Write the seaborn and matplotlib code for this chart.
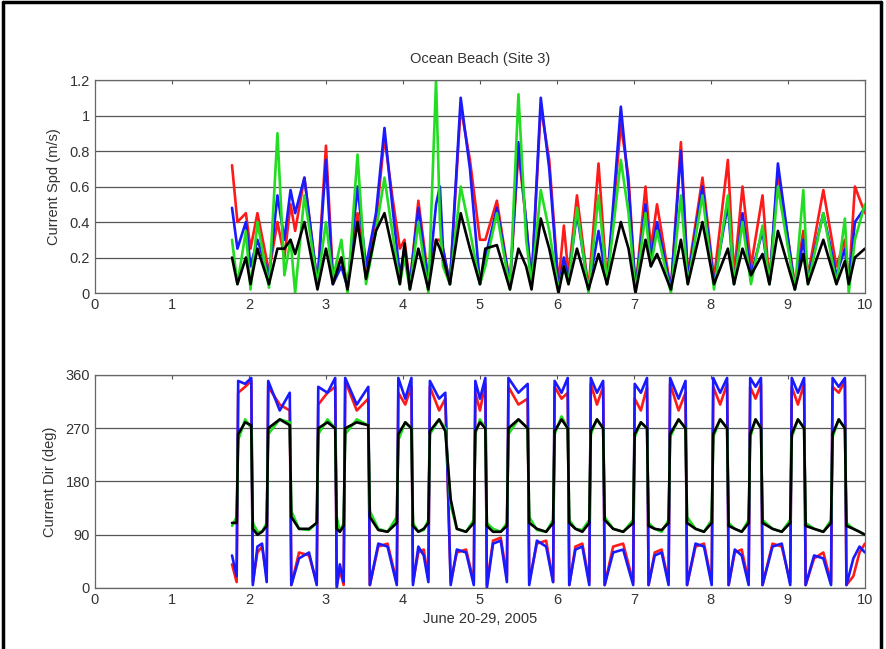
import matplotlib
matplotlib.use("Agg")
import numpy as np
import pandas as pd
import seaborn as sns
import matplotlib.pyplot as plt
from matplotlib.lines import Line2D

# ---- speed panel: turning points (days, m/s)
spd_day = [1.78, 1.85, 1.96, 2.02, 2.11, 2.26, 2.37, 2.46, 2.54, 2.60, 2.72, 2.89,
           3.00, 3.09, 3.20, 3.28, 3.41, 3.52, 3.65, 3.76, 3.86, 3.96, 4.02, 4.09,
           4.20, 4.33, 4.43, 4.48, 4.52, 4.61, 4.75, 4.87, 5.00, 5.07, 5.22, 5.39,
           5.50, 5.60, 5.67, 5.79, 5.90, 6.02, 6.09, 6.15, 6.26, 6.41, 6.54, 6.65,
           6.83, 6.93, 7.02, 7.15, 7.22, 7.30, 7.48, 7.61, 7.70, 7.89, 8.04, 8.22,
           8.30, 8.41, 8.52, 8.67, 8.76, 8.87, 9.09, 9.20, 9.26, 9.46, 9.63, 9.74,
           9.79, 9.87, 10.0]
spd_red = [0.72, 0.40, 0.45, 0.25, 0.45, 0.12, 0.40, 0.20, 0.50, 0.35, 0.65, 0.05,
           0.83, 0.10, 0.20, 0.05, 0.45, 0.10, 0.40, 0.88, 0.55, 0.25, 0.30, 0.05,
           0.52, 0.08, 0.30, 0.30, 0.25, 0.05, 1.05, 0.75, 0.30, 0.30, 0.52, 0.05,
           0.80, 0.40, 0.05, 1.05, 0.75, 0.05, 0.38, 0.10, 0.55, 0.02, 0.73, 0.05,
           0.95, 0.65, 0.02, 0.60, 0.25, 0.50, 0.02, 0.85, 0.10, 0.65, 0.08, 0.75,
           0.10, 0.60, 0.15, 0.55, 0.05, 0.68, 0.05, 0.35, 0.10, 0.58, 0.15, 0.30,
           0.05, 0.60, 0.45]
spd_blue = [0.48, 0.25, 0.40, 0.15, 0.30, 0.10, 0.55, 0.30, 0.58, 0.45, 0.65, 0.05,
            0.75, 0.05, 0.15, 0.03, 0.60, 0.15, 0.45, 0.93, 0.50, 0.10, 0.25, 0.05,
            0.48, 0.05, 0.50, 0.60, 0.25, 0.05, 1.10, 0.70, 0.05, 0.20, 0.48, 0.05,
            0.85, 0.40, 0.05, 1.10, 0.70, 0.02, 0.20, 0.08, 0.45, 0.02, 0.35, 0.05,
            1.05, 0.60, 0.02, 0.50, 0.20, 0.40, 0.02, 0.80, 0.08, 0.60, 0.05, 0.50,
            0.05, 0.45, 0.10, 0.35, 0.05, 0.73, 0.02, 0.30, 0.08, 0.45, 0.10, 0.25,
            0.05, 0.40, 0.48]
spd_green = [0.30, 0.05, 0.35, 0.02, 0.40, 0.03, 0.90, 0.10, 0.30, 0.00, 0.55, 0.05,
             0.40, 0.08, 0.30, 0.00, 0.78, 0.05, 0.35, 0.65, 0.35, 0.05, 0.20, 0.02,
             0.40, 0.00, 1.20, 0.40, 0.15, 0.05, 0.60, 0.35, 0.05, 0.15, 0.45, 0.02,
             1.12, 0.30, 0.05, 0.58, 0.35, 0.02, 0.15, 0.05, 0.48, 0.00, 0.55, 0.05,
             0.75, 0.45, 0.00, 0.45, 0.15, 0.35, 0.00, 0.55, 0.05, 0.55, 0.02, 0.55,
             0.05, 0.40, 0.05, 0.38, 0.05, 0.60, 0.02, 0.58, 0.05, 0.45, 0.05, 0.42,
             0.00, 0.30, 0.50]
spd_black = [0.20, 0.05, 0.20, 0.05, 0.25, 0.05, 0.25, 0.25, 0.30, 0.22, 0.40, 0.02,
             0.25, 0.05, 0.20, 0.02, 0.40, 0.08, 0.35, 0.45, 0.25, 0.05, 0.28, 0.02,
             0.25, 0.02, 0.30, 0.25, 0.20, 0.05, 0.45, 0.25, 0.05, 0.25, 0.27, 0.02,
             0.25, 0.15, 0.02, 0.42, 0.25, 0.00, 0.15, 0.05, 0.25, 0.02, 0.22, 0.05,
             0.40, 0.25, 0.00, 0.30, 0.15, 0.22, 0.02, 0.30, 0.05, 0.40, 0.05, 0.25,
             0.05, 0.25, 0.10, 0.22, 0.05, 0.35, 0.02, 0.22, 0.05, 0.30, 0.05, 0.18,
             0.05, 0.20, 0.25]

# ---- direction panel: plateaus and arches (days, deg)
dir_day = [1.78, 1.84, 1.86, 1.95, 2.03, 2.05, 2.11, 2.17, 2.23, 2.25, 2.40, 2.53,
           2.55, 2.65, 2.78, 2.88, 2.90, 3.02, 3.12, 3.14, 3.18, 3.23, 3.25, 3.40,
           3.55, 3.57, 3.68, 3.80, 3.92, 3.94, 4.03, 4.11, 4.13, 4.20, 4.27, 4.33,
           4.35, 4.47, 4.55, 4.62, 4.70, 4.82, 4.92, 4.94, 5.00, 5.07, 5.09, 5.17,
           5.27, 5.35, 5.37, 5.50, 5.62, 5.64, 5.74, 5.86, 5.95, 5.97, 6.06, 6.14,
           6.16, 6.24, 6.33, 6.42, 6.44, 6.52, 6.60, 6.62, 6.73, 6.86, 6.99, 7.01,
           7.09, 7.17, 7.19, 7.27, 7.36, 7.45, 7.47, 7.58, 7.67, 7.69, 7.80, 7.91,
           8.01, 8.03, 8.12, 8.21, 8.23, 8.31, 8.40, 8.49, 8.51, 8.58, 8.65, 8.67,
           8.80, 8.92, 9.03, 9.05, 9.13, 9.21, 9.23, 9.34, 9.46, 9.56, 9.58, 9.66,
           9.74, 9.76, 9.85, 9.93, 10.0]
dir_red = [40, 10, 330, 340, 350, 10, 60, 70, 20, 340, 310, 300,
           5, 60, 55, 10, 310, 330, 340, 5, 30, 5, 350, 300,
           320, 5, 70, 75, 10, 330, 310, 340, 10, 60, 65, 15,
           340, 300, 320, 10, 60, 65, 10, 330, 300, 345, 5, 80,
           85, 20, 340, 310, 320, 10, 75, 80, 10, 340, 320, 330,
           5, 70, 75, 10, 345, 310, 340, 5, 70, 75, 10, 320,
           300, 340, 5, 60, 65, 10, 345, 300, 330, 5, 70, 75,
           10, 340, 310, 345, 5, 60, 65, 10, 340, 320, 345, 5,
           75, 70, 10, 340, 310, 345, 5, 50, 60, 10, 340, 330,
           350, 5, 20, 60, 75]
dir_blue = [55, 20, 350, 345, 355, 5, 70, 75, 10, 350, 300, 330,
            5, 50, 60, 5, 340, 330, 355, 0, 40, 10, 355, 310,
            340, 5, 75, 70, 5, 355, 320, 355, 5, 70, 55, 10,
            350, 320, 330, 5, 65, 60, 5, 350, 320, 355, 0, 75,
            80, 10, 355, 330, 345, 5, 80, 70, 10, 350, 330, 355,
            5, 65, 70, 5, 355, 330, 350, 5, 60, 65, 5, 345,
            330, 355, 5, 55, 60, 5, 355, 320, 350, 5, 75, 70,
            5, 355, 330, 355, 5, 65, 55, 5, 355, 340, 355, 5,
            70, 75, 5, 355, 330, 355, 5, 55, 50, 5, 355, 340,
            355, 5, 50, 70, 60]
dir_green = [105, 120, 250, 285, 270, 110, 95, 95, 110, 260, 285, 280,
             130, 100, 98, 110, 260, 285, 270, 120, 95, 110, 260, 285,
             275, 130, 100, 95, 120, 250, 280, 270, 110, 95, 98, 115,
             260, 285, 270, 140, 100, 95, 115, 260, 285, 270, 110, 100,
             95, 110, 260, 285, 270, 120, 98, 95, 115, 260, 290, 270,
             115, 100, 98, 115, 260, 285, 270, 120, 100, 95, 115, 255,
             280, 270, 110, 100, 95, 115, 255, 285, 270, 120, 100, 95,
             115, 255, 285, 270, 110, 100, 95, 115, 255, 285, 270, 115,
             100, 95, 115, 255, 285, 270, 110, 100, 95, 115, 255, 285,
             270, 110, 100, 95, 90]
dir_black = [110, 110, 260, 280, 275, 100, 90, 95, 105, 270, 285, 275,
             120, 100, 100, 110, 270, 280, 270, 100, 95, 105, 270, 280,
             275, 120, 98, 95, 110, 260, 280, 270, 105, 95, 100, 110,
             265, 285, 265, 150, 100, 95, 110, 265, 280, 270, 105, 95,
             95, 105, 270, 285, 270, 110, 100, 95, 110, 265, 285, 270,
             110, 100, 95, 110, 265, 285, 270, 115, 100, 95, 110, 260,
             280, 270, 105, 100, 98, 110, 260, 285, 270, 110, 100, 95,
             110, 260, 285, 270, 105, 100, 95, 110, 260, 285, 270, 110,
             100, 95, 110, 260, 285, 270, 105, 100, 95, 110, 260, 285,
             270, 105, 100, 95, 90]

series_colors = {"red": "#ff1a1a", "blue": "#1a1aff", "green": "#22dd22", "black": "#000000"}

spd = pd.DataFrame({"day": spd_day, "red": spd_red, "blue": spd_blue,
                    "green": spd_green, "black": spd_black})
dirn = pd.DataFrame({"day": dir_day, "red": dir_red, "blue": dir_blue,
                     "green": dir_green, "black": dir_black})

sns.set_style("white")
plt.rcParams['font.family'] = ['Liberation Sans', 'DejaVu Sans']

fig = plt.figure(figsize=(8.86, 6.49), dpi=100)
ax1 = fig.add_axes([0.1072, 0.5485, 0.869, 0.3282])
ax2 = fig.add_axes([0.1072, 0.094, 0.869, 0.3282])

txt = "#333333"
for ax, df, ylim, yticks, ylabel in [
        (ax1, spd, (0, 1.2), [0, 0.2, 0.4, 0.6, 0.8, 1, 1.2], "Current Spd (m/s)"),
        (ax2, dirn, (0, 360), [0, 90, 180, 270, 360], "Current Dir (deg)")]:
    for name, col in series_colors.items():
        sns.lineplot(data=df, x="day", y=name, color=col, linewidth=1.9,
                     sort=False, estimator=None, ax=ax)
    ax.set_xlim(0, 10)
    ax.set_ylim(*ylim)
    ax.set_xticks(range(11))
    ax.set_yticks(yticks)
    ax.set_yticklabels([f"{t:g}" for t in yticks])
    ax.yaxis.grid(True, color="#555555", linewidth=0.9)
    ax.xaxis.grid(False)
    ax.set_axisbelow(True)
    ax.tick_params(direction="in", top=True, right=True, length=3,
                   labelsize=10.5, colors="#555555", labelcolor=txt)
    for s in ax.spines.values():
        s.set_color("#666666")
        s.set_linewidth(0.9)
    ax.set_ylabel(ylabel, fontsize=10.5, color=txt, labelpad=6)
    ax.set_xlabel("")

ax1.set_title("Ocean Beach (Site 3)", fontsize=10.5, color=txt, pad=12)
ax2.set_xlabel("June 20-29, 2005", fontsize=10.5, color=txt, labelpad=4)

# outer frame of the original figure (no bottom edge)
for xs, ys in [([0.003, 0.003], [0, 0.997]), ([0.003, 0.994], [0.997, 0.997]),
               ([0.994, 0.994], [0.997, 0])]:
    fig.add_artist(Line2D(xs, ys, color="black", linewidth=2.5, transform=fig.transFigure))

fig.savefig("out.png", dpi=100)
